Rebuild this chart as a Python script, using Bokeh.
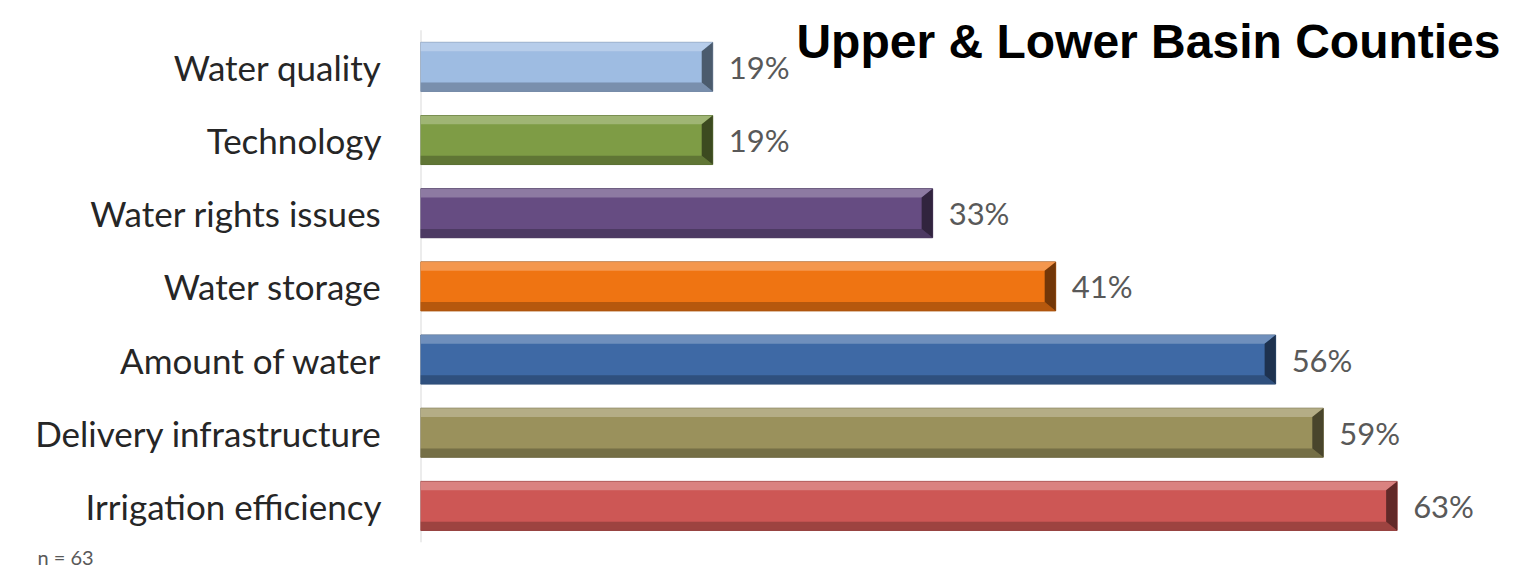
from bokeh.plotting import figure
from bokeh.models import Range1d, FixedTicker, Label, ColumnDataSource, Title
from bokeh.core.properties import value
from bokeh.embed import file_html
from bokeh.resources import INLINE

# ---- data ----
categories = ["Irrigation efficiency", "Delivery infrastructure", "Amount of water",
              "Water storage", "Water rights issues", "Technology", "Water quality"]
values = [63.5, 58.7, 55.6, 41.3, 33.3, 19.0, 19.0]          # bar lengths (%)
labels = ["63%", "59%", "56%", "41%", "33%", "19%", "19%"]   # printed labels
colors = ["#CD5755", "#9A915C", "#3E69A5", "#EF7412", "#664C82", "#7E9C45", "#9EBCE2"]
title_text = "Upper & Lower Basin Counties"
note_text = "n = 63"

FONT = "Lato"

W, H = 1500, 568
LEFT, BOTTOM = 420, 22
ROW_PX = 73.71                       # pixels per category row
XMAX = (W - LEFT) / 15.38
N = len(categories)
YTOP = N - 0.5 + 30 / ROW_PX         # extra headroom so the title is not clipped

p = figure(width=W, height=H, output_backend="svg", toolbar_location=None,
           x_range=Range1d(0, XMAX), y_range=Range1d(-0.5, YTOP),
           min_border_left=LEFT, min_border_right=0, min_border_top=0,
           min_border_bottom=BOTTOM, background_fill_color="white",
           border_fill_color="white", outline_line_color=None)
p.grid.visible = False
p.xaxis.visible = False

ys = list(range(N))

def blend(hexc, other, t):
    c = [int(hexc[i:i + 2], 16) for i in (1, 3, 5)]
    return "#%02x%02x%02x" % tuple(int(round(a + (b - a) * t)) for a, b in zip(c, other))

light = [blend(c, (255, 255, 255), 0.30) for c in colors]
dark = [blend(c, (0, 0, 0), 0.28) for c in colors]
darker = [blend(c, (0, 0, 0), 0.55) for c in colors]

hh = 0.335         # half bar height (data units)
bv = 0.12          # bevel depth (y data units)
px = XMAX / (W - LEFT)
dx = 11 * px       # bevel depth in x

# category axis line (only over the category rows)
p.segment(x0=[0], y0=[-0.5], x1=[0], y1=[N - 0.5], line_color="#d9d9d9", line_width=2)

# main body
p.hbar(y=ys, right=values, left=0, height=2 * hh, fill_color=colors,
       line_color=dark, line_width=1)

top_xs, top_ys, bot_xs, bot_ys, r_xs, r_ys = [], [], [], [], [], []
for y, v in zip(ys, values):
    t, b = y + hh, y - hh
    top_xs.append([0, v, v - dx, 0])
    top_ys.append([t, t, t - bv, t - bv])
    bot_xs.append([0, v, v - dx, 0])
    bot_ys.append([b, b, b + bv, b + bv])
    r_xs.append([v, v, v - dx, v - dx])
    r_ys.append([t, b, b + bv, t - bv])

p.patches(xs=top_xs, ys=top_ys, fill_color=light, line_color=None, fill_alpha=0.85)
p.patches(xs=bot_xs, ys=bot_ys, fill_color=dark, line_color=None, fill_alpha=0.85)
p.patches(xs=r_xs, ys=r_ys, fill_color=darker, line_color=None, fill_alpha=0.95)

# value labels
src = ColumnDataSource(dict(y=ys, x=values, t=labels))
p.text(x="x", y="y", text="t", source=src, x_offset=16, text_baseline="middle",
       text_align="left", text_font=value(FONT), text_font_size="31px",
       text_color="#595959")

# y axis
p.yaxis.ticker = FixedTicker(ticks=ys)
p.yaxis.major_label_overrides = {i: c for i, c in enumerate(categories)}
p.yaxis.major_label_text_font = FONT
p.yaxis.major_label_text_font_size = "35px"
p.yaxis.major_label_text_color = "#262626"
p.yaxis.major_label_standoff = 33
p.yaxis.major_tick_line_color = None
p.yaxis.minor_tick_line_color = None
p.yaxis.axis_line_color = None

# title and note
p.add_layout(Label(x=XMAX, y=6.34, text=title_text, text_align="right",
                   text_baseline="alphabetic", text_font="Liberation Sans",
                   text_font_style="bold", text_font_size="48px", text_color="black"))
p.add_layout(Title(text=note_text, align="left", offset=-383, standoff=0,
                   text_font=FONT, text_font_style="normal", text_font_size="20px",
                   text_color="#595959"), "below")

open("out.html", "w").write(file_html(p, INLINE))
